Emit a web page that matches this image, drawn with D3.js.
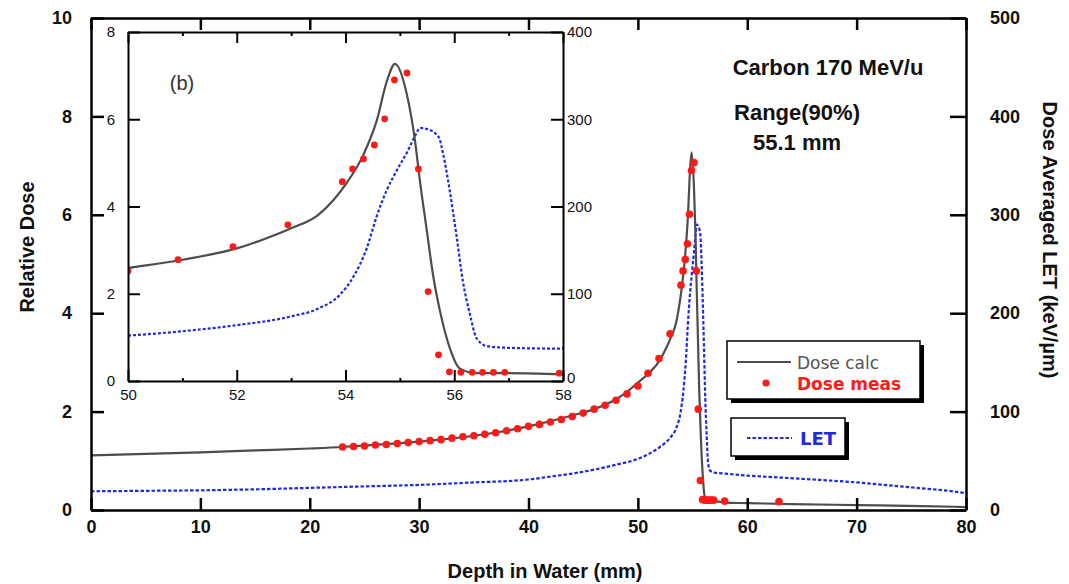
<!DOCTYPE html>
<html><head><meta charset="utf-8">
<script src="https://cdn.jsdelivr.net/npm/d3@7"></script>
<style>
body{margin:0;background:#fff;}
svg{display:block;}
text{font-family:"Liberation Sans",Arial,sans-serif;}
</style></head>
<body>
<svg id="c" width="1069" height="584"></svg>
<script>
// ---- data ----
const calcDepth = [0,5,10,15,20,23,27,32,36,40,44,46,48,49,50,51,52,52.5,53,53.5,53.78,54,54.33,54.57,54.76,54.91,55.13,55.28,55.37,55.49,55.61,55.74,55.92,56.1,56.4,57,58,60,64,70,76,80];
const calcDose  = [1.11,1.14,1.17,1.21,1.25,1.28,1.34,1.43,1.54,1.70,1.92,2.05,2.25,2.40,2.59,2.78,3.04,3.25,3.50,3.81,4.15,4.50,5.19,5.95,6.87,7.27,6.56,5.49,4.57,3.50,2.43,1.59,0.75,0.29,0.18,0.18,0.15,0.14,0.12,0.10,0.08,0.06];
const letDepth = [0,5,10,15,20,25,30,35,40,42,44,46,48,50,51,52,53,53.5,53.9,54.15,54.39,54.57,54.76,54.94,55.13,55.28,55.37,55.49,55.71,55.8,55.92,56.04,56.16,56.29,56.41,56.6,57,58,60,63,66,70,73,76,78,80];
const letValue = [19,19.5,20,21,22.5,24,25.5,28,31,34,37,41,46,52,57,64,74,83,99,120,152,188,219,241,262,281,290,289,280,259,217,167,114,76,49,40,38,37,35,33,31,28,25,22,20,17];
const measDepth = [23,24,25,26,27,28,29,30,31,32,33,34,35,36,37,38,39,40,41,42,43,44,45,46,47,48,49,50,50.92,51.93,52.94,53.94,54.13,54.33,54.53,54.72,54.9,55.13,55.34,55.52,55.71,55.91,56.12,56.33,56.52,56.72,56.93,57.93,62.9];
const measDose  = [1.28,1.29,1.30,1.32,1.33,1.35,1.37,1.39,1.41,1.43,1.46,1.49,1.51,1.54,1.57,1.61,1.65,1.70,1.74,1.79,1.84,1.90,1.97,2.05,2.13,2.23,2.36,2.52,2.78,3.08,3.58,4.57,4.86,5.09,5.41,6.01,6.90,7.06,4.86,2.05,0.60,0.21,0.20,0.20,0.20,0.20,0.20,0.18,0.17];
const xTicks = [0,10,20,30,40,50,60,70,80];
const yTicks = [0,2,4,6,8,10];
const letTicks = [0,100,200,300,400,500];
const insetXTicks = [50,52,54,56,58];
const insetXMinor = [51,53,55,57];
const insetYTicks = [0,2,4,6,8];
const insetLetTicks = [0,100,200,300,400];

const calc = calcDepth.map((d,i)=>({d, v:calcDose[i]}));
const lets = letDepth.map((d,i)=>({d, v:letValue[i]}));
const meas = measDepth.map((d,i)=>({d, v:measDose[i]}));

const svg = d3.select("#c");
const GRAY="#4d4d4d", BLUE="#1f2ad8", RED="#ff1a1a";

// ---- main scales ----
const x = d3.scaleLinear().domain([0,80]).range([91,966]);
const y = d3.scaleLinear().domain([0,10]).range([510,18]);
const yL = d3.scaleLinear().domain([0,500]).range([510,18]);

svg.append("clipPath").attr("id","mc").append("rect")
  .attr("x",91).attr("y",18).attr("width",875).attr("height",492);

const gm = svg.append("g").attr("clip-path","url(#mc)");
gm.append("path").datum(lets)
  .attr("d", d3.line().x(p=>x(p.d)).y(p=>yL(p.v)).curve(d3.curveMonotoneX))
  .attr("fill","none").attr("stroke",BLUE).attr("stroke-width",2.2).attr("stroke-dasharray","3.5,2");
gm.append("path").datum(calc)
  .attr("d", d3.line().x(p=>x(p.d)).y(p=>y(p.v)).curve(d3.curveMonotoneX))
  .attr("fill","none").attr("stroke",GRAY).attr("stroke-width",2.2);
gm.selectAll("circle").data(meas).join("circle")
  .attr("cx",p=>x(p.d)).attr("cy",p=>y(p.v)).attr("r",3.8).attr("fill",RED);

function styleAxis(g, fs, sw){
  g.select(".domain").attr("stroke","#000").attr("stroke-width",sw);
  g.selectAll(".tick line").attr("stroke","#000").attr("stroke-width",sw);
  g.selectAll(".tick text").attr("fill","#111").style("font-size",fs+"px").style("font-weight","bold")
   .style("font-family","'Liberation Sans',Arial,sans-serif");
}

const axB = svg.append("g").attr("transform","translate(0,510)")
  .call(d3.axisBottom(x).tickValues(xTicks).tickSizeInner(-12).tickSizeOuter(0).tickPadding(10).tickFormat(d3.format("d")));
styleAxis(axB,18,2.5);
const axT = svg.append("g").attr("transform","translate(0,18)")
  .call(d3.axisTop(x).tickValues(xTicks).tickSizeInner(-12).tickSizeOuter(0).tickFormat(""));
styleAxis(axT,18,2.5);
const axLft = svg.append("g").attr("transform","translate(91,0)")
  .call(d3.axisLeft(y).tickValues(yTicks).tickSizeInner(-13).tickSizeOuter(0).tickPadding(19).tickFormat(d3.format("d")));
styleAxis(axLft,18,2.5);
const axR = svg.append("g").attr("transform","translate(966,0)")
  .call(d3.axisRight(yL).tickValues(letTicks).tickSizeInner(-16).tickSizeOuter(0).tickPadding(24).tickFormat(d3.format("d")));
styleAxis(axR,18,2.5);

// axis titles
svg.append("text").attr("transform","translate(545,578)").attr("text-anchor","middle")
  .style("font-size","20px").style("font-weight","bold").attr("fill","#111").text("Depth in Water (mm)");
svg.append("text").attr("transform","translate(34,247) rotate(-90)").attr("text-anchor","middle")
  .style("font-size","20px").style("font-weight","bold").attr("fill","#111").text("Relative Dose");
svg.append("text").attr("transform","translate(1043,240) rotate(90)").attr("text-anchor","middle")
  .style("font-size","20px").style("font-weight","bold").attr("fill","#111").text("Dose Averaged LET (keV/\u00b5m)");

// annotations
svg.append("text").attr("x",828).attr("y",75).attr("text-anchor","middle")
  .style("font-size","22px").style("font-weight","bold").attr("fill","#111").text("Carbon 170 MeV/u");
svg.append("text").attr("x",797).attr("y",120).attr("text-anchor","middle")
  .style("font-size","22px").style("font-weight","bold").attr("fill","#111").text("Range(90%)");
svg.append("text").attr("x",797).attr("y",150).attr("text-anchor","middle")
  .style("font-size","22px").style("font-weight","bold").attr("fill","#111").text("55.1 mm");

// legends
function box(x0,y0,w,h){
  svg.append("rect").attr("x",x0+4).attr("y",y0+4).attr("width",w).attr("height",h).attr("fill","#000");
  svg.append("rect").attr("x",x0).attr("y",y0).attr("width",w).attr("height",h).attr("fill","#fff").attr("stroke","#000").attr("stroke-width",1.5);
}
box(727,341,193,58);
svg.append("line").attr("x1",737).attr("x2",791).attr("y1",362).attr("y2",362).attr("stroke",GRAY).attr("stroke-width",2.2);
svg.append("text").attr("x",797).attr("y",369).style("font-family","'DejaVu Sans',sans-serif").style("font-size","17px").attr("fill","#555").text("Dose calc");
svg.append("circle").attr("cx",766).attr("cy",383).attr("r",3.6).attr("fill",RED);
svg.append("text").attr("x",797).attr("y",390).style("font-family","'DejaVu Sans',sans-serif").style("font-size","17px").style("font-weight","bold").attr("fill",RED).text("Dose meas");
box(731,418,114,38);
svg.append("line").attr("x1",747).attr("x2",792).attr("y1",438).attr("y2",438).attr("stroke",BLUE).attr("stroke-width",2.2).attr("stroke-dasharray","3.5,2");
svg.append("text").attr("x",800).attr("y",445).style("font-family","'DejaVu Sans',sans-serif").style("font-size","18px").style("font-weight","bold").attr("fill",BLUE).text("LET");

// ---- inset ----
const xi = d3.scaleLinear().domain([50,58]).range([128,563]);
const yi = d3.scaleLinear().domain([0,8]).range([381,32]);
const yiL = d3.scaleLinear().domain([0,400]).range([381,32]);
svg.append("rect").attr("x",128).attr("y",32).attr("width",435).attr("height",349).attr("fill","#fff");
svg.append("clipPath").attr("id","ic").append("rect").attr("x",128).attr("y",32).attr("width",435).attr("height",349);
const gi = svg.append("g").attr("clip-path","url(#ic)");
const inC = calc.filter(p=>p.d>=49 && p.d<=59);
const inL = lets.filter(p=>p.d>=49 && p.d<=59);
const inM = meas.filter(p=>p.d>=50 && p.d<=58);
gi.append("path").datum(inL)
  .attr("d", d3.line().x(p=>xi(p.d)).y(p=>yiL(p.v)).curve(d3.curveMonotoneX))
  .attr("fill","none").attr("stroke",BLUE).attr("stroke-width",2.2).attr("stroke-dasharray","3,2");
gi.append("path").datum(inC)
  .attr("d", d3.line().x(p=>xi(p.d)).y(p=>yi(p.v)).curve(d3.curveMonotoneX))
  .attr("fill","none").attr("stroke",GRAY).attr("stroke-width",2.2);
gi.selectAll("circle").data(inM).join("circle")
  .attr("cx",p=>xi(p.d)).attr("cy",p=>yi(p.v)).attr("r",3.4).attr("fill",RED);

const iB = svg.append("g").attr("transform","translate(0,381)")
  .call(d3.axisBottom(xi).tickValues(insetXTicks).tickSizeInner(-11).tickSizeOuter(0).tickPadding(8).tickFormat(d3.format("d")));
styleAxis(iB,14,2);
iB.selectAll(".tick text").style("font-weight","normal").style("font-size","15px");
const iBm = svg.append("g").attr("transform","translate(0,381)")
  .call(d3.axisBottom(xi).tickValues(insetXMinor).tickSizeInner(-3).tickSizeOuter(0).tickFormat(""));
styleAxis(iBm,14,2); iBm.select(".domain").remove();
const iT = svg.append("g").attr("transform","translate(0,32)")
  .call(d3.axisTop(xi).tickValues(insetXTicks).tickSizeInner(-11).tickSizeOuter(0).tickFormat(""));
styleAxis(iT,14,2);
const iTm = svg.append("g").attr("transform","translate(0,32)")
  .call(d3.axisTop(xi).tickValues(insetXMinor).tickSizeInner(-4).tickSizeOuter(0).tickFormat(""));
styleAxis(iTm,14,2); iTm.select(".domain").remove();
const iLft = svg.append("g").attr("transform","translate(128,0)")
  .call(d3.axisLeft(yi).tickValues(insetYTicks).tickSizeInner(-12).tickSizeOuter(0).tickPadding(13).tickFormat(d3.format("d")));
styleAxis(iLft,14,2);
iLft.selectAll(".tick text").style("font-weight","normal").style("font-size","15px");
const iR = svg.append("g").attr("transform","translate(563,0)")
  .call(d3.axisRight(yiL).tickValues(insetLetTicks).tickSizeInner(-12).tickSizeOuter(0).tickPadding(4).tickFormat(d3.format("d")));
styleAxis(iR,14,2);
iR.selectAll(".tick text").style("font-weight","normal").style("font-size","15px");
iR.selectAll(".tick text").filter(d=>d===0).attr("dy","0.1em");
svg.append("text").attr("x",182).attr("y",90).attr("text-anchor","middle")
  .style("font-size","20px").attr("fill","#333").text("(b)");
</script>
</body></html>
